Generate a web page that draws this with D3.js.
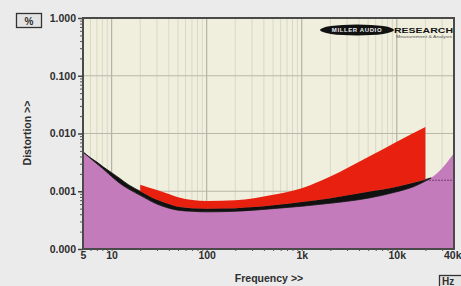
<!DOCTYPE html>
<html>
<head>
<meta charset="utf-8">
<script src="https://cdn.jsdelivr.net/npm/d3@7"></script>
<style>
  html, body { margin: 0; padding: 0; background: #ebebeb; }
  svg { display: block; }
  .lbl { font-family: "Liberation Sans", Arial, sans-serif; font-weight: bold; fill: #2e2e2e; }
</style>
</head>
<body>
<div id="chart"></div>
<script>
// noise floor (magenta), Hz -> %
const floorFreqs = [5, 6, 7, 8, 10, 12, 15, 20, 30, 40, 50, 70, 100, 200, 500, 1000, 2000, 5000, 10000, 15000, 20000, 25000, 30000, 35000, 40000];
const noiseFloor = [0.0048, 0.0037, 0.003, 0.0025, 0.0018, 0.0014, 0.0011, 0.00085, 0.0006, 0.00051, 0.00047, 0.00045, 0.00044, 0.00045, 0.0005, 0.00055, 0.00062, 0.00076, 0.00098, 0.0012, 0.0015, 0.0019, 0.0025, 0.0034, 0.0046];

// black THD band, 5 Hz .. 23 kHz
const bandFreqs  = [5, 6, 7, 8, 10, 12, 15, 20, 30, 40, 50, 70, 100, 200, 500, 1000, 2000, 5000, 10000, 15000, 20000, 23000];
const bandLow    = [0.0048, 0.0037, 0.003, 0.0025, 0.0018, 0.0014, 0.0011, 0.00085, 0.0006, 0.00051, 0.00047, 0.00045, 0.00044, 0.00045, 0.0005, 0.00055, 0.00062, 0.00076, 0.00098, 0.0012, 0.0015, 0.0017];
const bandHigh   = [0.0048, 0.0038, 0.0032, 0.0027, 0.0021, 0.0017, 0.0013, 0.001, 0.00071, 0.0006, 0.00054, 0.00051, 0.0005, 0.00051, 0.00057, 0.00065, 0.00076, 0.00098, 0.0012, 0.0014, 0.0016, 0.0017];

// red band: 20 Hz .. 20 kHz
const redFreqs   = [20, 30, 40, 50, 100, 200, 500, 1000, 2000, 5000, 10000, 20000];
const redBottom  = [0.001, 0.00071, 0.0006, 0.00054, 0.0005, 0.00051, 0.00057, 0.00065, 0.00076, 0.00098, 0.0012, 0.0016];
const redTop     = [0.0013, 0.00105, 0.0009, 0.00079, 0.00068, 0.0007, 0.00087, 0.00113, 0.0018, 0.0039, 0.0072, 0.013];

// dotted limit line
const dotFreqs   = [19000, 40000];
const dotValues  = [0.00155, 0.00155];

const yTicks = [1, 0.1, 0.01, 0.001, 0.0001];
const yTickLabels = ["1.000", "0.100", "0.010", "0.001", "0.000"];
const xTicks = [5, 10, 100, 1000, 10000, 40000];
const xTickLabels = ["5", "10", "100", "1k", "10k", "40k"];

const W = 461, H = 286;
const pL = 83, pR = 454, pT = 18, pB = 249;

const svg = d3.select("#chart").append("svg")
  .attr("width", W).attr("height", H);

svg.append("rect").attr("width", W).attr("height", H).attr("fill", "#ebebeb");

const x = d3.scaleLog().domain([5, 40000]).range([pL, pR]);
const y = d3.scaleLog().domain([0.0001, 1]).range([pB, pT]);

svg.append("defs").append("clipPath").attr("id", "plot")
  .append("rect").attr("x", pL).attr("y", pT)
  .attr("width", pR - pL).attr("height", pB - pT);

// plot background
svg.append("rect")
  .attr("x", pL).attr("y", pT)
  .attr("width", pR - pL).attr("height", pB - pT)
  .attr("fill", "#f0efdd");

// grid
const minorX = [];
for (let d = 1; d <= 10000; d *= 10) {
  for (let m = 1; m <= 9; m++) {
    const f = d * m;
    if (f > 5 && f < 40000) minorX.push(f);
  }
}
const majorX = [10, 100, 1000, 10000];
const grid = svg.append("g").attr("clip-path", "url(#plot)");
grid.selectAll(".vg")
  .data(minorX)
  .join("line")
  .attr("x1", d => x(d)).attr("x2", d => x(d))
  .attr("y1", pT).attr("y2", pB)
  .style("stroke", d => majorX.includes(d) ? "#b3b3a6" : "#d9d8c8")
  .style("stroke-width", d => majorX.includes(d) ? 1.2 : 1);

grid.selectAll(".hg")
  .data([0.1, 0.01, 0.001])
  .join("line")
  .attr("x1", pL).attr("x2", pR)
  .attr("y1", d => y(d)).attr("y2", d => y(d))
  .style("stroke", "#b8b8aa")
  .style("stroke-width", 1.2);

// curves
const area = (xs, lo, hi) => d3.area()
  .x((d, i) => x(xs[i]))
  .y0((d, i) => lo ? y(lo[i]) : pB)
  .y1((d, i) => y(hi[i]))
  .curve(d3.curveMonotoneX)(xs);

const marks = svg.append("g").attr("clip-path", "url(#plot)");

marks.append("path")
  .attr("d", area(floorFreqs, null, noiseFloor))
  .attr("fill", "#c47bbb");

marks.append("path")
  .attr("d", area(bandFreqs, bandLow, bandHigh))
  .attr("fill", "#111")
  .attr("stroke", "#111")
  .attr("stroke-width", 0.8);

marks.append("path")
  .attr("d", area(redFreqs, redBottom, redTop))
  .attr("fill", "#e8200f");

marks.append("path")
  .attr("d", d3.line().x((d, i) => x(dotFreqs[i])).y((d, i) => y(dotValues[i]))(dotFreqs))
  .attr("fill", "none")
  .attr("stroke", "#5a2a5a")
  .attr("stroke-width", 1.2)
  .attr("stroke-dasharray", "1.5,1.5");

// frame
svg.append("rect")
  .attr("x", pL).attr("y", pT)
  .attr("width", pR - pL).attr("height", pB - pT)
  .attr("fill", "none")
  .attr("stroke", "#4a4a4a")
  .attr("stroke-width", 2);

// y axis ticks
const yMinor = [];
for (let d = 0.0001; d < 1; d *= 10) {
  for (let m = 2; m <= 9; m++) yMinor.push(d * m);
}
const yAxis = svg.append("g").attr("transform", `translate(${pL},0)`);
yAxis.call(d3.axisLeft(y).tickValues(yMinor).tickSize(3).tickFormat(""));
yAxis.select(".domain").remove();
yAxis.selectAll("line").attr("stroke", "#555");

const yMajor = svg.append("g").attr("transform", `translate(${pL},0)`);
yMajor.call(d3.axisLeft(y).tickValues(yTicks).tickSize(5).tickPadding(2)
  .tickFormat((d, i) => yTickLabels[i]));
yMajor.select(".domain").remove();
yMajor.selectAll("line").attr("stroke", "#444").attr("stroke-width", 1.5);
yMajor.selectAll("text").attr("class", "lbl").style("font-size", "10.5px");

// x axis ticks
const xAxis = svg.append("g").attr("transform", `translate(0,${pB})`);
xAxis.call(d3.axisBottom(x).tickValues(minorX).tickSize(2).tickFormat(""));
xAxis.select(".domain").remove();
xAxis.selectAll("line").attr("stroke", "#555");

const xMajor = svg.append("g").attr("transform", `translate(0,${pB})`);
xMajor.call(d3.axisBottom(x).tickValues(xTicks).tickSize(0).tickPadding(3)
  .tickFormat((d, i) => xTickLabels[i]));
xMajor.select(".domain").remove();
xMajor.selectAll("text").attr("class", "lbl").style("font-size", "10.5px");
// last label pulled inside the window edge
xMajor.selectAll("text").filter(d => d === 40000).attr("text-anchor", "end").attr("dx", 7);

// axis titles
svg.append("text").attr("class", "lbl")
  .attr("x", 269).attr("y", 282)
  .attr("text-anchor", "middle")
  .style("font-size", "10.5px")
  .text("Frequency >>");

svg.append("text").attr("class", "lbl")
  .attr("transform", "translate(31,133) rotate(-90)")
  .attr("text-anchor", "middle")
  .style("font-size", "10.5px")
  .text("Distortion >>");

// unit boxes
svg.append("rect").attr("x", 16.5).attr("y", 13.5).attr("width", 25).attr("height", 14)
  .attr("fill", "#e4e4e4").attr("stroke", "#333").attr("stroke-width", 1.3);
svg.append("text").attr("class", "lbl").attr("x", 29).attr("y", 24.5)
  .attr("text-anchor", "middle").style("font-size", "10px").text("%");

svg.append("rect").attr("x", 439.5).attr("y", 275.5).attr("width", 26).attr("height", 14)
  .attr("fill", "#e4e4e4").attr("stroke", "#333").attr("stroke-width", 1.3);
svg.append("text").attr("class", "lbl").attr("x", 442).attr("y", 285)
  .style("font-size", "10px").text("Hz");

// logo
svg.append("ellipse").attr("cx", 357).attr("cy", 30).attr("rx", 37).attr("ry", 5.5)
  .attr("fill", "#111");
svg.append("text").attr("x", 357).attr("y", 32.2)
  .attr("text-anchor", "middle")
  .style("font-family", "Liberation Sans, Arial, sans-serif")
  .style("font-weight", "bold").style("font-size", "6px")
  .style("fill", "#eee").style("letter-spacing", "0.6px")
  .text("MILLER AUDIO");
svg.append("text").attr("x", 394).attr("y", 32.8)
  .attr("textLength", 59).attr("lengthAdjust", "spacingAndGlyphs")
  .style("font-family", "Liberation Sans, Arial, sans-serif")
  .style("font-weight", "bold").style("font-size", "8px")
  .style("fill", "#111")
  .text("RESEARCH");
svg.append("text").attr("x", 396).attr("y", 37.5)
  .attr("textLength", 56).attr("lengthAdjust", "spacingAndGlyphs")
  .style("font-family", "Liberation Sans, Arial, sans-serif")
  .style("font-size", "3.5px").style("fill", "#555")
  .text("Measurement & Analysis");
</script>
</body>
</html>
